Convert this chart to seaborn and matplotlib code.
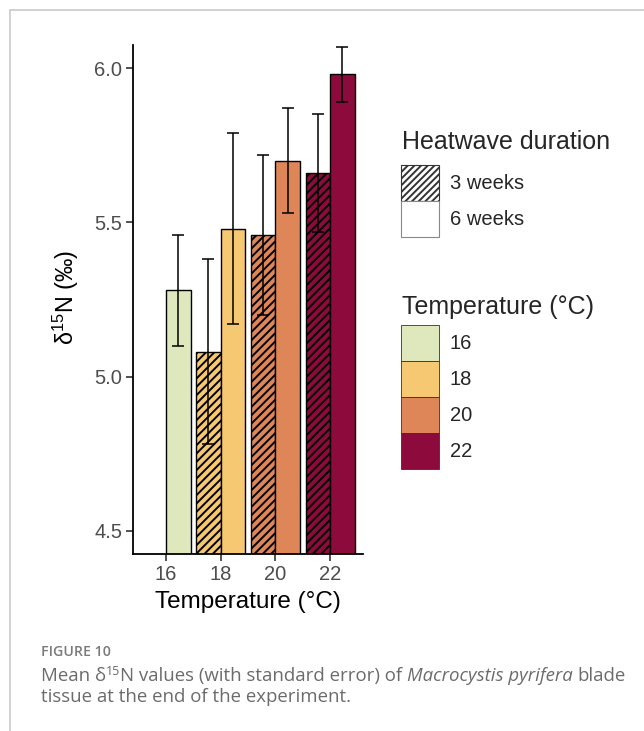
import numpy as np
import pandas as pd
import matplotlib
matplotlib.use("Agg")
import matplotlib.pyplot as plt
from matplotlib.patches import Patch
from matplotlib.lines import Line2D
import seaborn as sns

# ---- data -------------------------------------------------------------
temperatures = ["16", "18", "20", "22"]
durations = ["3 weeks", "6 weeks"]
mean_3wk = [np.nan, 5.08, 5.46, 5.66]
se_3wk = [np.nan, 0.30, 0.26, 0.19]
mean_6wk = [5.28, 5.48, 5.70, 5.98]
se_6wk = [0.18, 0.31, 0.17, 0.09]
temp_colors = ["#dfe7bd", "#f6c872", "#de8658", "#8c0a3c"]
y_ticks = [4.5, 5.0, 5.5, 6.0]

rows = []
for dur, means, ses in (("3 weeks", mean_3wk, se_3wk), ("6 weeks", mean_6wk, se_6wk)):
    for t, m, s in zip(temperatures, means, ses):
        if not np.isnan(m):
            rows.append({"temperature": t, "duration": dur, "d15N": m, "se": s})
df = pd.DataFrame(rows)

# ---- style ------------------------------------------------------------
sns.set_style("ticks")
plt.rcParams["font.family"] = ["Liberation Sans", "DejaVu Sans"]
plt.rcParams["mathtext.fontset"] = "custom"
plt.rcParams["mathtext.rm"] = "Liberation Sans"
plt.rcParams["mathtext.it"] = "Liberation Sans:italic"
plt.rcParams["mathtext.default"] = "regular"
plt.rcParams["hatch.linewidth"] = 1.4

W, H = 644, 731
fig = plt.figure(figsize=(W / 100, H / 100), dpi=100)
ax = fig.add_axes([133 / W, 1 - 554 / H, 230 / W, 509 / H])

sns.barplot(
    data=df, x="temperature", y="d15N", hue="duration",
    order=temperatures, hue_order=durations,
    palette={d: "white" for d in durations}, saturation=1,
    width=0.9, dodge=True, errorbar=None, legend=False,
    edgecolor="black", linewidth=1.0, ax=ax,
)

# colour bars by temperature, hatch the 3-week treatment, add SE bars
err_x, err_y, err_e = [], [], []
for p in ax.patches:
    if p.get_height() == 0 or np.isnan(p.get_height()):
        continue
    cx = p.get_x() + p.get_width() / 2
    ti = int(round(cx))
    dur = "3 weeks" if cx < ti else "6 weeks"
    p.set_facecolor(temp_colors[ti])
    p.set_edgecolor("black")
    if dur == "3 weeks":
        p.set_hatch("////")
    rec = df[(df.temperature == temperatures[ti]) & (df.duration == dur)].iloc[0]
    err_x.append(cx)
    err_y.append(rec.d15N)
    err_e.append(rec.se)

ax.errorbar(err_x, err_y, yerr=err_e, fmt="none", ecolor="black",
            elinewidth=1.1, capsize=4.6, capthick=1.1, zorder=5)

ax.set_xlim(-0.6, 3.6)
ax.set_ylim(4.425, 6.075)
ax.set_yticks(y_ticks)
ax.set_yticklabels([f"{v:.1f}" for v in y_ticks])
ax.set_xticks(range(len(temperatures)))
ax.set_xticklabels(temperatures)

for s in ("top", "right"):
    ax.spines[s].set_visible(False)
for s in ("left", "bottom"):
    ax.spines[s].set_linewidth(1.3)
    ax.spines[s].set_color("black")
ax.tick_params(axis="both", direction="out", length=4.8, width=1.1,
               color="#222222", labelsize=14.5, labelcolor="#4d4d4d")
ax.tick_params(axis="y", pad=3.0)
ax.tick_params(axis="x", pad=2.8)

ax.set_xlabel("Temperature (°C)", fontsize=17.5, color="black")
ax.xaxis.label.set_va("baseline")
ax.xaxis.set_label_coords(0.5, (554 - 608.3) / 509)
ax.set_ylabel(r"δ$^{15}$N (‰)", fontsize=16.8, color="black")
ax.yaxis.label.set_va("baseline")
ax.yaxis.set_label_coords((73.5 - 133) / 230, (554 - 297.3) / 509)

# ---- legends ----------------------------------------------------------
leg_fs = 14.5
fs_px = leg_fs * 100 / 72
key_h_pt = 36 * 72 / 100
# patch height = fs * (0.65 * handleheight + 0.245) in matplotlib's legend layout
hh = (key_h_pt / leg_fs - 0.245) / 0.65
leg_kw = dict(loc="upper left", frameon=False, borderpad=0, borderaxespad=0,
              labelspacing=0, handlelength=38 / fs_px, handleheight=hh,
              handletextpad=11 / fs_px, fontsize=leg_fs)

dur_handles = [
    Patch(facecolor="white", edgecolor="#333333", hatch="/////", linewidth=0.8),
    Patch(facecolor="white", edgecolor="#888888", linewidth=0.8),
]
fig.legend(dur_handles, durations, bbox_to_anchor=(400.7 / W, 1 - 165 / H), **leg_kw)
temp_handles = [Patch(facecolor=c, edgecolor="#333333", linewidth=0.6) for c in temp_colors]
fig.legend(temp_handles, temperatures, bbox_to_anchor=(400.7 / W, 1 - 325 / H), **leg_kw)

fig.text(401.7 / W, 1 - 149.3 / H, "Heatwave duration", fontsize=18, va="baseline", ha="left")
fig.text(401.7 / W, 1 - 314 / H, "Temperature (°C)", fontsize=18, va="baseline", ha="left")

# ---- page frame and caption ------------------------------------------
frame_kw = dict(color="#c9c9c9", linewidth=1.2, transform=fig.transFigure)
fig.add_artist(Line2D([9.5 / W, 1], [1 - 9.5 / H, 1 - 9.5 / H], **frame_kw))
fig.add_artist(Line2D([9.5 / W, 9.5 / W], [0, 1 - 9.5 / H], **frame_kw))

cap_font = ["Open Sans", "DejaVu Sans"]
cap_color = "#6b6b6b"
cap_fs = 13.4
fig.text(40.7 / W, 1 - 655.7 / H, "FIGURE 10", family=cap_font, weight="semibold",
         fontsize=10.2, color="#7a7a7a", va="baseline")

fig.canvas.draw()
renderer = fig.canvas.get_renderer()


def text_width(s, **kw):
    t = fig.text(0, 0, s, **kw)
    w = t.get_window_extent(renderer).width
    t.remove()
    return w


base_kw = dict(family=cap_font, fontsize=cap_fs, color=cap_color, va="baseline")
space_w = text_width("n n", **base_kw) - text_width("nn", **base_kw)

pieces = [
    ("Mean δ", {}, 0, False),
    ("15", {"fontsize": 9.0}, 6.5, False),
    ("N values (with standard error) of", {}, 0, True),
    ("Macrocystis pyrifera", {"style": "italic"}, 0, True),
    ("blade", {}, 0, False),
]
x = 40.7
y1 = 681.3
for txt, extra, rise, trailing_space in pieces:
    kw = dict(base_kw)
    kw.update(extra)
    t = fig.text(x / W, 1 - (y1 - rise) / H, txt, **kw)
    x += t.get_window_extent(renderer).width
    if trailing_space:
        x += space_w

fig.text(40.7 / W, 1 - 702.5 / H, "tissue at the end of the experiment.", **base_kw)

fig.savefig("out.png", dpi=100)
